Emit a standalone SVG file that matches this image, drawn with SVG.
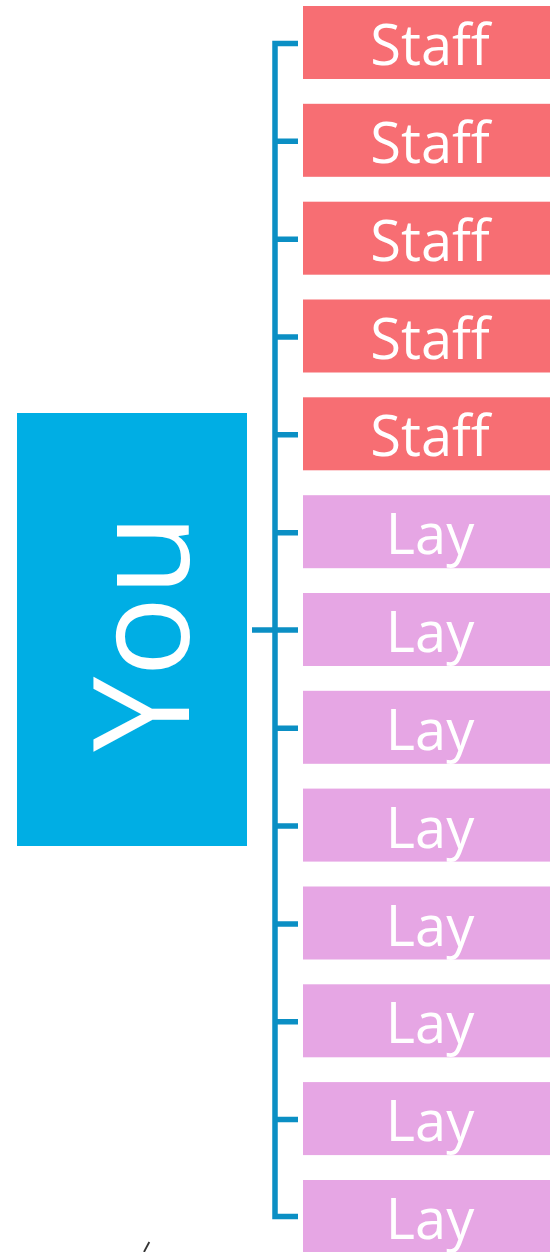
<svg xmlns="http://www.w3.org/2000/svg" width="550" height="1252" viewBox="0 0 550 1252">
<style>
.staff{fill:#F76E73}
.lay{fill:#E6A6E4}
.lbl{font-family:"Open Sans","Noto Sans",sans-serif;font-size:56px;fill:#FFFFFF;text-anchor:middle}
.conn{fill:none;stroke:#0B8FC4;stroke-width:5.5}
</style>
<rect width="550" height="1252" fill="#FFFFFF"/>
<g id="you">
<rect x="17" y="413" width="230" height="433" fill="#00AEE4"/>
<text transform="translate(189,633) rotate(-90)" font-family="'Open Sans','Noto Sans',sans-serif" font-size="134" fill="#FFFFFF" text-anchor="middle">You</text>
</g>
<g id="connectors">
<path class="conn" d="M298,43.5 H275 V1216.5 H298"/>
<path class="conn" d="M252,630 H298"/>
<path class="conn" d="M275,141.3 H298 M275,239.2 H298 M275,337 H298 M275,434.8 H298 M275,532.7 H298 M275,728.3 H298 M275,826.1 H298 M275,924 H298 M275,1021.8 H298 M275,1119.6 H298"/>
</g>
<g id="n1"><rect class="staff" x="303" y="6" width="254" height="73"/><text class="lbl" x="430" y="65">Staff</text></g>
<g id="n2"><rect class="staff" x="303" y="103.8" width="254" height="73"/><text class="lbl" x="430" y="162.8">Staff</text></g>
<g id="n3"><rect class="staff" x="303" y="201.7" width="254" height="73"/><text class="lbl" x="430" y="260.7">Staff</text></g>
<g id="n4"><rect class="staff" x="303" y="299.5" width="254" height="73"/><text class="lbl" x="430" y="358.5">Staff</text></g>
<g id="n5"><rect class="staff" x="303" y="397.3" width="254" height="73"/><text class="lbl" x="430" y="456.3">Staff</text></g>
<g id="n6"><rect class="lay" x="303" y="495.2" width="254" height="73"/><text class="lbl" x="430" y="554.2">Lay</text></g>
<g id="n7"><rect class="lay" x="303" y="593" width="254" height="73"/><text class="lbl" x="430" y="652">Lay</text></g>
<g id="n8"><rect class="lay" x="303" y="690.8" width="254" height="73"/><text class="lbl" x="430" y="749.8">Lay</text></g>
<g id="n9"><rect class="lay" x="303" y="788.6" width="254" height="73"/><text class="lbl" x="430" y="847.6">Lay</text></g>
<g id="n10"><rect class="lay" x="303" y="886.5" width="254" height="73"/><text class="lbl" x="430" y="945.5">Lay</text></g>
<g id="n11"><rect class="lay" x="303" y="984.3" width="254" height="73"/><text class="lbl" x="430" y="1043.3">Lay</text></g>
<g id="n12"><rect class="lay" x="303" y="1082.1" width="254" height="73"/><text class="lbl" x="430" y="1141.1">Lay</text></g>
<g id="n13"><rect class="lay" x="303" y="1180" width="254" height="73"/><text class="lbl" x="430" y="1239">Lay</text></g>
<line x1="149.3" y1="1242" x2="144" y2="1252" stroke="#333333" stroke-width="1.8"/>
</svg>
